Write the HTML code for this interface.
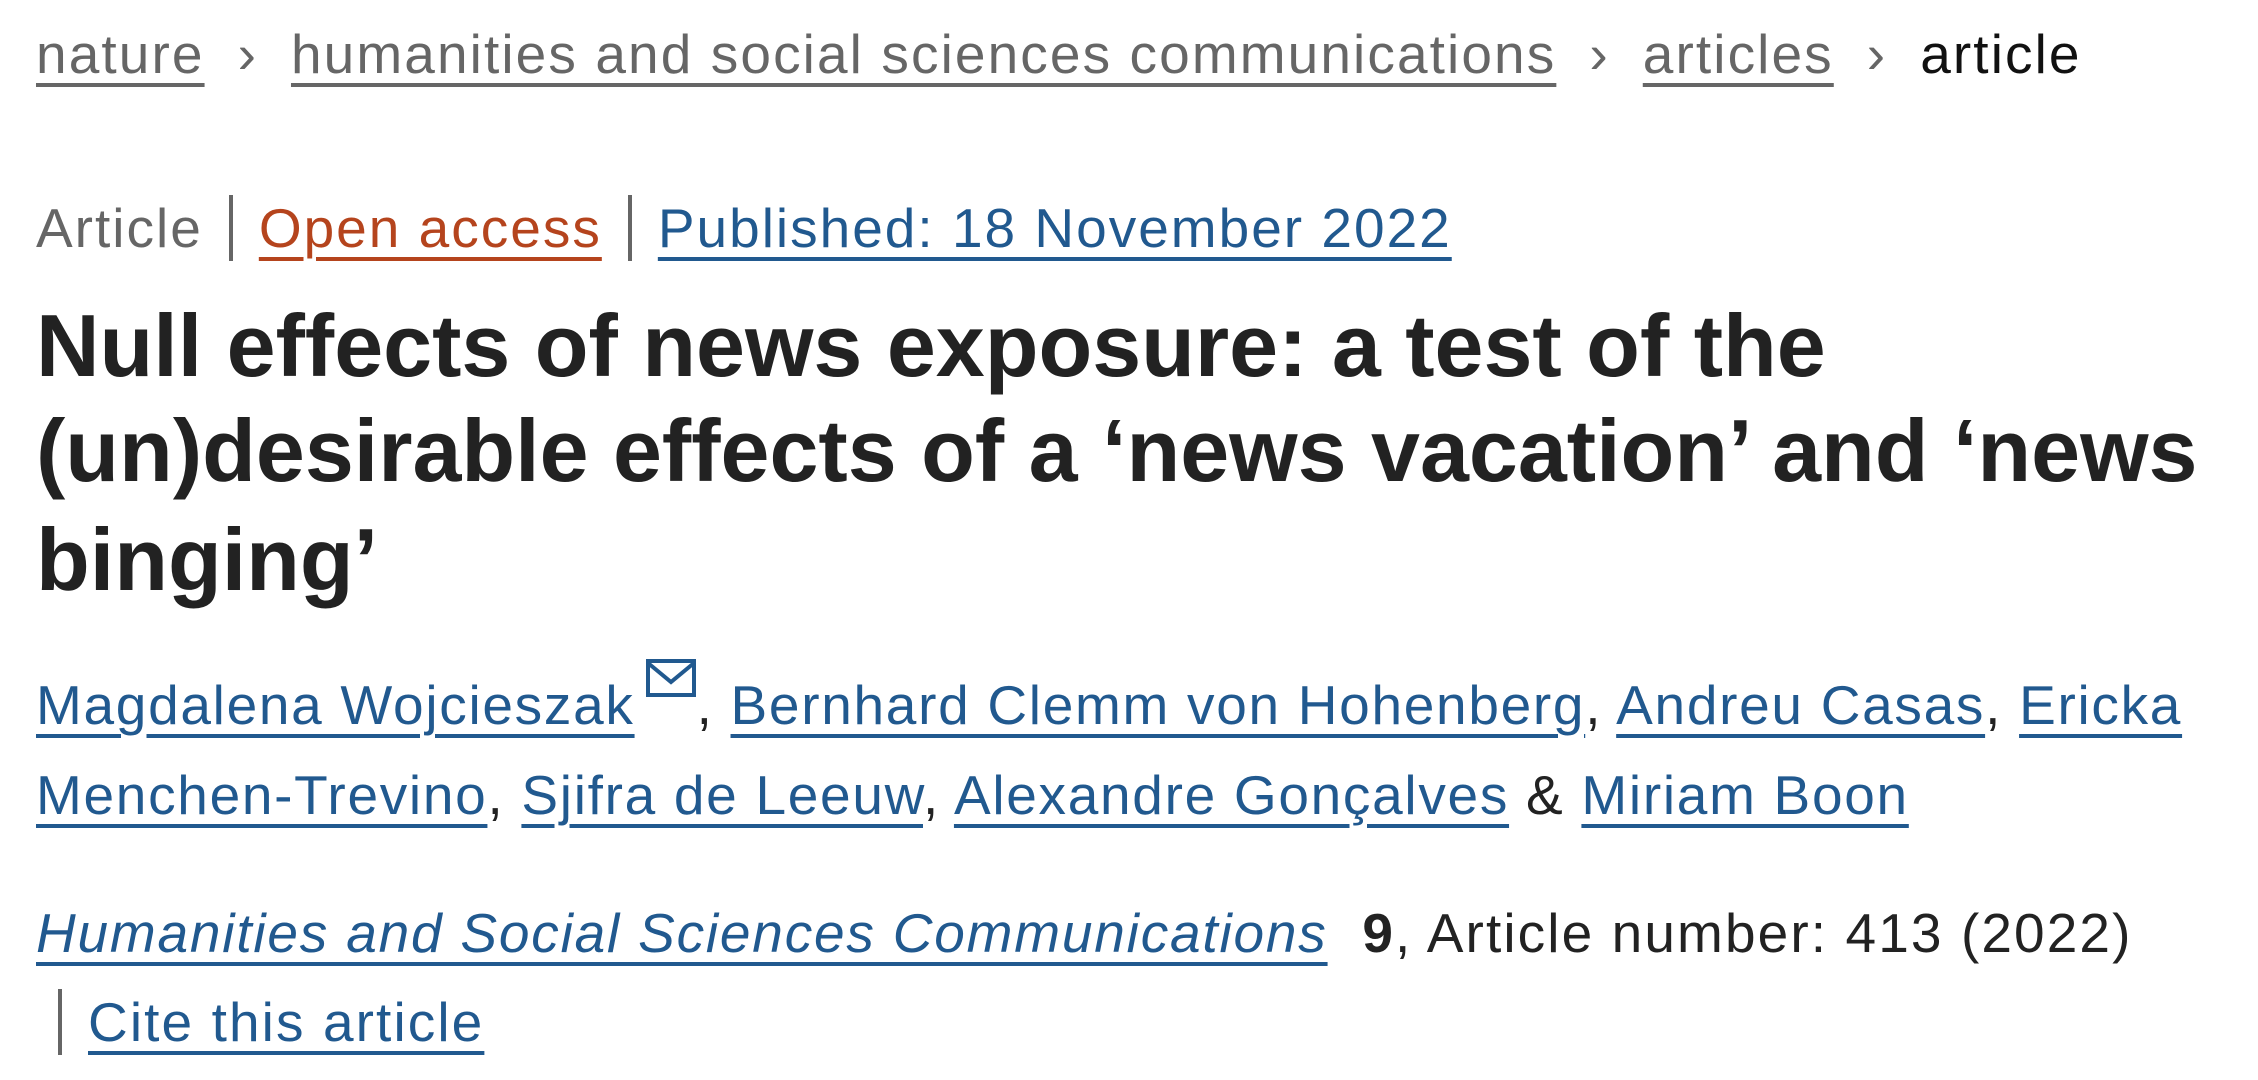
<!DOCTYPE html>
<html><head><meta charset="utf-8"><style>
html,body{margin:0;padding:0;background:#fff;width:2258px;height:1080px;overflow:hidden}
body{font-family:"Liberation Sans",sans-serif;position:relative}
.l{position:absolute;left:36px;white-space:nowrap}
a{text-decoration:underline;text-decoration-thickness:4px;text-underline-offset:10px}
.bc{font-size:55px;color:#666;top:22px;letter-spacing:2.1px}
.bc a{color:#666}
.sep{display:inline-block;margin:0 33px;color:#666}
.meta{font-size:55px;top:195px;color:#666;letter-spacing:2.0px}
.bar{display:inline-block;width:4px;height:66px;background:#666;vertical-align:-14px;margin:0 26px}
.oa{color:#b5441d}
.blue{color:#21598f}
.t{font-size:88px;font-weight:bold;color:#222;letter-spacing:0px}
.au{font-size:55px;top:658px;color:#222;line-height:90px;letter-spacing:1.7px}
.au a{color:#21598f}
.j{font-size:55px;color:#222;top:901px;letter-spacing:2.1px}
</style></head><body>
<div class="l bc"><a>nature</a><span class="sep">›</span><a>humanities and social sciences communications</a><span class="sep">›</span><a>articles</a><span class="sep">›</span><span style="color:#111">article</span></div>
<div class="l meta">Article<span class="bar"></span><a class="oa">Open access</a><span class="bar"></span><a class="blue">Published: 18 November 2022</a></div>
<div class="l t" style="top:295px">Null effects of news exposure: a test of the</div>
<div class="l t" style="top:400px">(un)desirable effects of a ‘news vacation’ and ‘news</div>
<div class="l t" style="top:509px">binging’</div>
<div class="l au"><a>Magdalena Wojcieszak</a><svg width="52" height="40" viewBox="0 0 52 40" style="vertical-align:26px;margin-left:10px"><rect x="3" y="3" width="46" height="34" fill="none" stroke="#21598f" stroke-width="4"/><path d="M3 5 L26 24 L49 5" fill="none" stroke="#21598f" stroke-width="4"/></svg>, <a>Bernhard Clemm von Hohenberg</a>, <a>Andreu Casas</a>, <a>Ericka</a><br><a>Menchen-Trevino</a>, <a>Sjifra de Leeuw</a>, <a>Alexandre Gonçalves</a> &amp; <a>Miriam Boon</a></div>
<div class="l j"><a style="color:#21598f;font-style:italic;letter-spacing:1.8px">Humanities and Social Sciences Communications</a>&nbsp;&nbsp;<b>9</b>, Article number: 413 (2022)</div>
<div class="l j" style="top:989px;left:58px"><span class="bar" style="margin:0 26px 0 0"></span><a style="color:#21598f">Cite this article</a></div>
</body></html>
